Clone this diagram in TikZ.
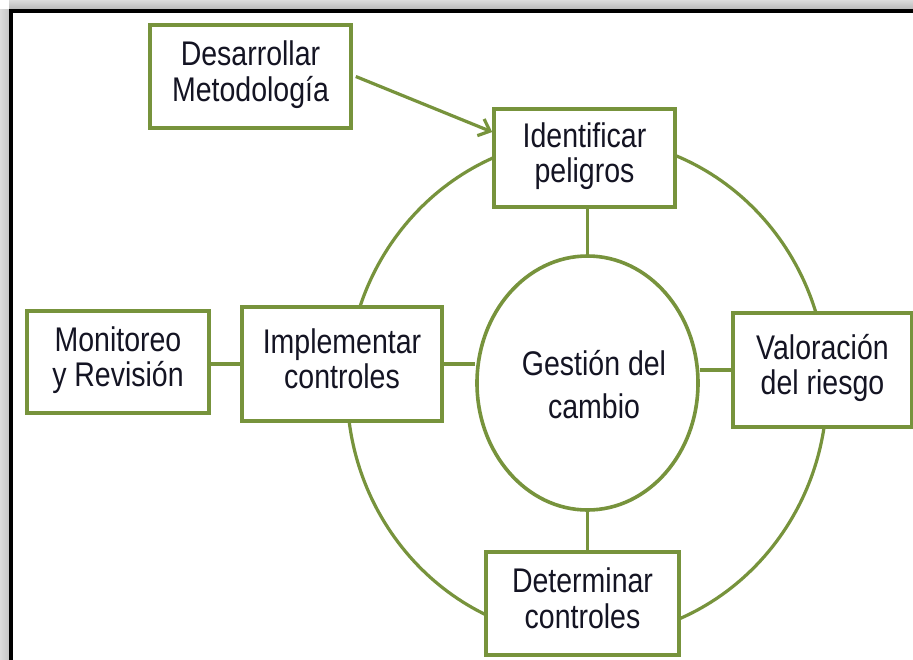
\documentclass[tikz,border=0pt]{standalone}
\usepackage{fontspec}
\setmainfont{Liberation Sans}
\usepackage{graphicx}
\usetikzlibrary{arrows.meta,calc,shapes.geometric}
\definecolor{olivegreen}{RGB}{119,147,60}
\definecolor{txtcol}{RGB}{20,20,35}
\newcommand{\tx}[1]{\scalebox{1}[1.2]{\begin{tabular}{@{}c@{}}#1\end{tabular}}}
\begin{document}
\begin{tikzpicture}[x=1pt,y=-1pt,
  box/.style={draw=olivegreen,line width=3.6pt,fill=white,inner sep=0pt,text=txtcol,
    font=\fontsize{28.5}{29.5}\selectfont},
  conn/.style={draw=olivegreen,line width=3.2pt}]
\useasboundingbox (0,0) rectangle (913,659);
\clip (0,0) rectangle (913,659);
\fill[white] (0,0) rectangle (913,659);
% shadow and frame
\shade[top color=gray!28, bottom color=gray!55] (9,0) rectangle (913,9);
\shade[left color=gray!28, right color=gray!45] (0,9) rectangle (9,659);
\draw[line width=4pt] (11,11) rectangle (930,680);
% outer ring
\draw[conn] (587,388) ellipse [x radius=240, y radius=250];
% nodes
\node[box,minimum width=201pt,minimum height=103pt] (des) at (250.5,76.5) {\tx{Desarrollar\\Metodología}};
\node[box,minimum width=181pt,minimum height=98pt] (ide) at (584.5,158) {\tx{Identificar\\peligros}};
\node[box,minimum width=182pt,minimum height=102pt] (mon) at (118,362) {\tx{Monitoreo\\y Revisión}};
\node[box,minimum width=200pt,minimum height=114pt] (imp) at (342,364) {\tx{Implementar\\controles}};
\node[box,minimum width=179pt,minimum height=114pt] (val) at (822.5,370) {\tx{Valoración\\del riesgo}};
\node[box,minimum width=193pt,minimum height=103pt] (det) at (582.5,603.5) {\tx{Determinar\\controles}};
\node[box,ellipse,minimum width=221pt,minimum height=254pt] (ges) at (587.5,383) {};
\node[text=txtcol,inner sep=0pt,font=\fontsize{28.5}{36}\selectfont] (gest) at (594,388) {\tx{Gestión del\\cambio}};
% connectors
\draw[conn,-{Straight Barb[length=10pt,width=18pt]}] ($(des.east)+(3,0)$) -- ($(ide.west)+(0,-26)$);
\draw[conn] (ges.north) -- (ges.north |- ide.south);
\draw[conn] (ges.south) -- (ges.south |- det.north);
\draw[conn] (val.west) -- (val.west -| ges.east);
\draw[conn] (imp.east) -- (imp.east -| ges.west);
\draw[conn] (imp.west) -- (imp.west -| mon.east);
\end{tikzpicture}
\end{document}
